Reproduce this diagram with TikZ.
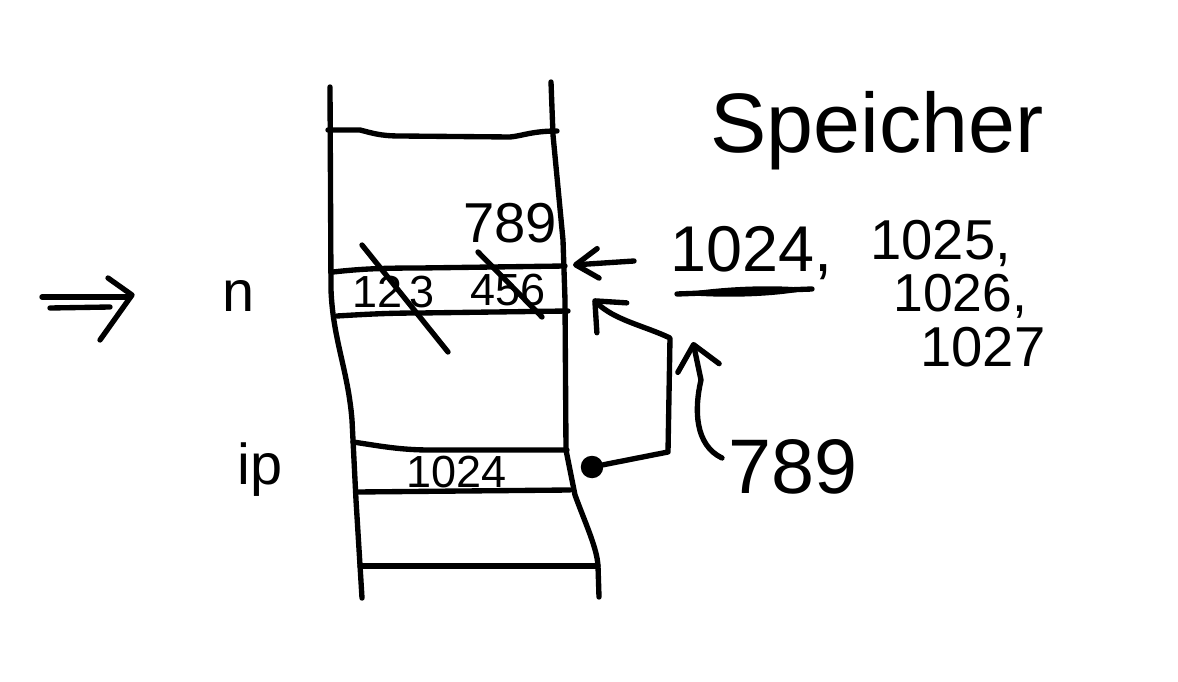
\documentclass[tikz,border=0pt]{standalone}
\usepackage{fontspec}
\setmainfont{Liberation Sans}
\usetikzlibrary{arrows.meta}
\begin{document}
\begin{tikzpicture}[x=0.025cm,y=-0.025cm,
    pen/.style={line width=3.8pt,line cap=round,line join=round},
    ptr/.style={pen,-{Straight Barb[round,length=16pt,width=21pt]}},
    bentptr/.style={pen,-{Straight Barb[round,length=17pt,width=30pt]}},
    txt/.style={anchor=base west,inner sep=0pt,font=\fontsize{#1}{#1}\selectfont}]
  \useasboundingbox (0,0) rectangle (1178,682);
  % Speicher (Stapel)
  \draw[pen] (330,87)--(331,290) .. controls (333,340) and (348,370) .. (352,420)--(356,500)--(362,598);
  \draw[pen] (551,82)--(553,135)--(563,240)--(565,300)--(566,450)--(575,495) .. controls (586,525) and (597,548) .. (598,566)--(599,597);
  \draw[pen] (328,130)--(360,130) .. controls (372,133) and (380,136) .. (400,136)--(510,137) .. controls (522,136) and (532,131) .. (557,131);
  \draw[pen] (333,272) .. controls (360,269) and (380,268) .. (420,268)--(565,266);
  \draw[pen] (337,316) .. controls (370,314) and (390,313) .. (420,313)--(568,311);
  \draw[pen] (353,442) .. controls (380,446) and (400,450) .. (430,450)--(567,450);
  \draw[pen] (357,492)--(570,490);
  \draw[pen] (360,566)--(598,566);
  % Zellen
  \node[txt=32] (cellA) at (352,308) {12\,3};
  \node[txt=32] (cellB) at (470,306) {456};
  \node[txt=40] (cellNew) at (463,243) {789};
  \node[txt=32] (cellIp) at (406,487) {1024};
  \draw[pen] (362,245)--(448,352);
  \draw[pen] (478,252)--(542,317);
  % Namen
  \node[txt=41] (lblN) at (222,312) {n};
  \node[txt=41] (lblIp) at (237,484) {ip};
  \draw[pen] (42,297)--(130,297);
  \draw[pen] (50,308)--(110,307);
  \draw[pen] (108,278)--(132,295)--(100,340);
  \node[txt=60,anchor=base] (speicher) at (877,153) {Speicher};
  % Adressen
  \node[txt=46] (addr1) at (670,272) {1024,};
  \node[txt=40] (addr2) at (870,260) {1025,};
  \node[txt=38] (addr3) at (893,312) {1026,};
  \node[txt=40] (addr4) at (920,367) {1027};
  \fill (677,294) .. controls (720,286) and (780,284) .. (812,289) .. controls (780,297) and (720,299) .. (677,294) -- cycle;
  \draw[pen] (677,294)--(812,289);
  % Zeiger
  \coordinate (nTail) at (634,261);
  \coordinate (nIn) at (573,265);
  \draw[ptr] (nTail)--(nIn);
  \node[circle,fill,inner sep=0pt,minimum size=16pt] (dot) at (592,467) {};
  \coordinate (ipUp) at (668,452);
  \coordinate (ipTop) at (670,338);
  \coordinate (nLow) at (593,299);
  \draw[bentptr] (dot)--(ipUp)--(ipTop) .. controls (645,326) and (614,320) .. (nLow);
  \node[txt=55] (newVal) at (728,493) {789};
  \coordinate (valTail) at (722,458);
  \coordinate (valTip) at (693,342);
  \draw[bentptr] (valTail) .. controls (695,445) and (694,410) .. (701,380)--(valTip);
\end{tikzpicture}
\end{document}
